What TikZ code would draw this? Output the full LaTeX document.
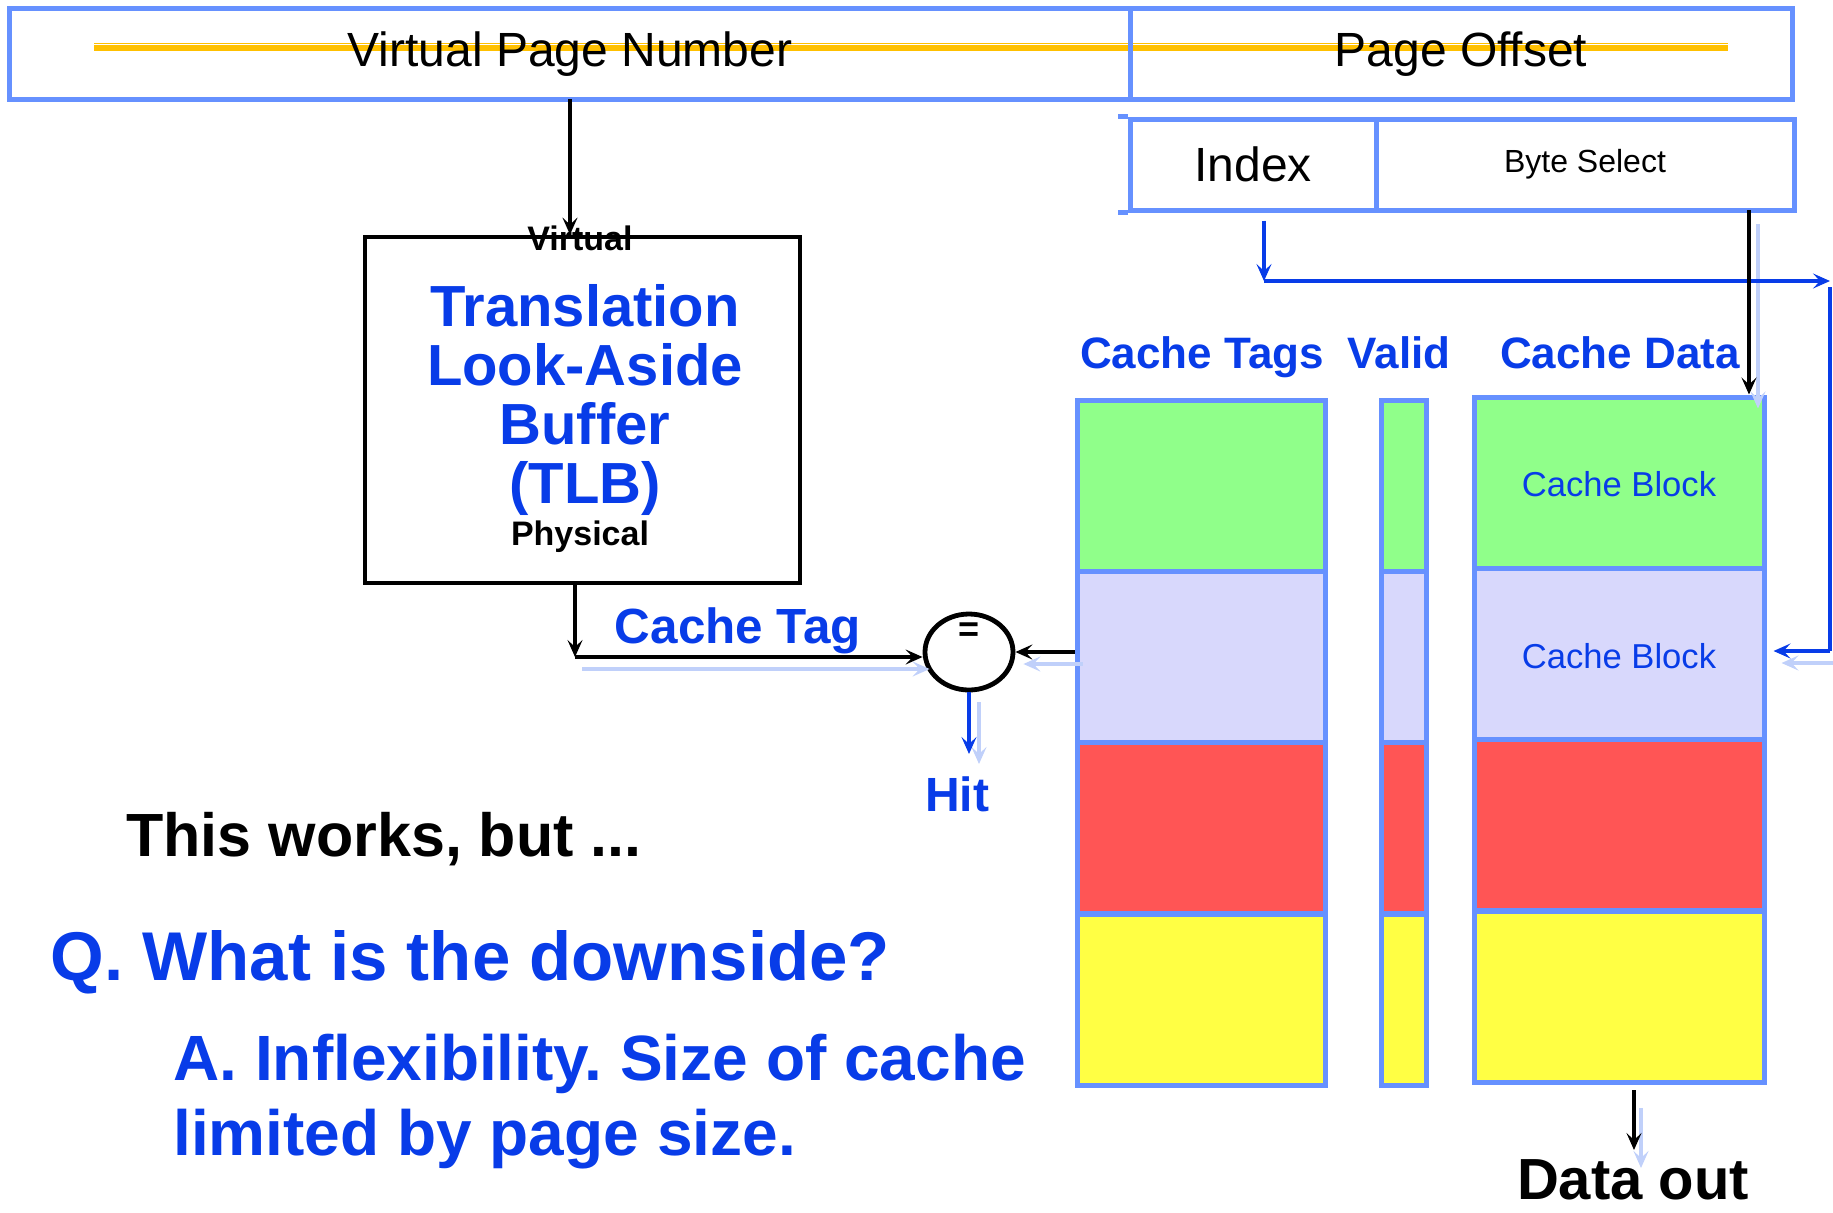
\documentclass[tikz,border=0pt]{standalone}
\usepackage{fontspec}
\setmainfont{Liberation Sans}
\usetikzlibrary{arrows.meta,shapes.geometric}
\definecolor{tblue}{RGB}{8,60,232}
\definecolor{bord}{RGB}{102,145,255}
\definecolor{shad}{RGB}{192,208,250}
\definecolor{orng}{RGB}{255,192,0}
\definecolor{cgreen}{RGB}{144,255,138}
\definecolor{clav}{RGB}{216,216,252}
\definecolor{cred}{RGB}{255,85,85}
\definecolor{cyel}{RGB}{255,255,68}
\tikzset{
  fld/.style={draw=bord, line width=2.5pt, inner sep=0pt, rectangle, minimum height=45.5pt},
  cell/.style={draw=bord, line width=2.5pt, inner sep=0pt, rectangle, minimum height=85.5pt},
  tagcell/.style={cell, minimum width=124pt},
  valcell/.style={cell, minimum width=22.5pt},
  datcell/.style={cell, minimum width=145pt},
  tip/.style={-{Stealth[length=8.5pt,width=7.5pt,inset=3.5pt]}},
  blk/.style={tip, draw=black, line width=2.3pt},
  blu/.style={tip, draw=tblue, fill=tblue, line width=2.3pt},
  bluline/.style={draw=tblue, line width=2.3pt},
  shd/.style={tip, draw=shad, line width=2.3pt},
  lbl/.style={inner sep=0pt},
  bbl/.style={lbl, text=tblue, font=\bfseries\fontsize{22}{26}\selectfont},
}
\frenchspacing
\begin{document}
\begin{tikzpicture}[x=0.5pt, y=-0.5pt]
\useasboundingbox (0,0) rectangle (1833,1212);
% orange band behind the address fields
\draw[orng, line width=3.8pt] (94,47) -- (1728,47);
\draw[white, line width=0.5pt] (94,44.5) -- (1728,44.5);
% address fields
\node[fld, minimum width=560.5pt] (vpn) at (569.5,53.5) {};
\node[fld, minimum width=331pt] (po) at (1461,53.5) {};
\node[lbl, font=\fontsize{24}{28}\selectfont] (vpnt) at (570,54) {Virtual Page Number};
\node[lbl, font=\fontsize{24}{28}\selectfont] (pot) at (1461,54) {Page Offset};
\node[fld, minimum width=123pt, font=\fontsize{24}{28}\selectfont] (idx) at (1253,164.5) {Index};
\node[fld, minimum width=209pt, font=\fontsize{16}{19}\selectfont] (bs) at (1585,164.5) {Byte Select};
\draw[bord, line width=2.5pt] (idx.north west) -- ++(-10,0);
\draw[bord, line width=2.5pt] (idx.south west) -- ++(-10,0);
% TLB
\node[draw, line width=2.4pt, minimum width=217.5pt, minimum height=173pt, inner sep=0pt] (tlb) at (582.5,410) {};
\node[lbl, text=tblue, align=center, font=\bfseries\fontsize{29}{29.5}\selectfont] (tlbt) at (585,400) {Translation\\Look-Aside\\Buffer\\(TLB)};
\node[lbl, font=\bfseries\fontsize{17}{20}\selectfont] (virt) at (580,238) {Virtual};
\node[lbl, font=\bfseries\fontsize{17}{20}\selectfont] (phys) at (580,537) {Physical};
% comparator
\node[ellipse, draw, line width=2.4pt, minimum width=44pt, minimum height=38pt, inner sep=0pt] (cmp) at (969,652) {};
\node[lbl, font=\bfseries\fontsize{18}{20}\selectfont] (eq) at (969,632) {=};
% cache arrays
\foreach \r/\c/\y in {1/cgreen/485.5, 2/clav/657, 3/cred/828, 4/cyel/999.5}{
  \node[tagcell, fill=\c] (t\r) at (1201,\y) {};
  \node[valcell, fill=\c] (v\r) at (1403.5,\y) {};
}
\foreach \r/\c/\y in {1/cgreen/482.5, 2/clav/654, 3/cred/825, 4/cyel/996.5}{
  \node[datcell, fill=\c] (d\r) at (1619,\y) {};
}
\node[lbl, text=tblue, font=\fontsize{17.3}{20}\selectfont] (cb1) at ([yshift=-1pt]d1) {Cache Block};
\node[lbl, text=tblue, font=\fontsize{17.3}{20}\selectfont] (cb2) at ([yshift=-1pt]d2) {Cache Block};
\node[bbl] (htags) at (1202,357) {Cache Tags};
\node[bbl] (hvalid) at (1399,353) {Valid};
\node[bbl] (hdata) at (1620,353) {Cache Data};
% labels
\node[lbl, text=tblue, font=\bfseries\fontsize{24.7}{28}\selectfont] (ctag) at (738,631) {Cache Tag};
\node[lbl, text=tblue, font=\bfseries\fontsize{24}{28}\selectfont] (hit) at (957,794) {Hit};
\node[lbl, font=\bfseries\fontsize{29}{32}\selectfont] (dout) at (1633,1180) {Data out};
\node[lbl, anchor=west, font=\bfseries\fontsize{30.5}{34}\selectfont] (works) at (126,839) {This works, but ...};
\node[lbl, anchor=west, text=tblue, font=\bfseries\fontsize{34.5}{38}\selectfont] (q) at (50,962) {Q. What is the downside?};
\node[lbl, anchor=west, text=tblue, align=left, font=\bfseries\fontsize{32}{37.5}\selectfont] (a) at (173,1102) {A. Inflexibility. Size of cache\\limited by page size.};
% coordinates for connector corners
\coordinate (va) at (570,99);
\coordinate (tc) at (575,657);
\coordinate (hc) at (969,754);
\coordinate (ic) at (1264,281);
\coordinate (ir) at (1830,281);
\coordinate (ie) at (1830,651);
\coordinate (bsc) at (1749,210);
\coordinate (do1) at (1634,1090);
\coordinate (do2) at (1634,1150);
% shadows
\draw[shd, transform canvas={shift={(7,12)}}] (tc) -- (tc -| cmp.west);
\draw[shd, transform canvas={shift={(8,12)}}] (t2.west |- cmp.east) -- (cmp.east);
\draw[shd, transform canvas={shift={(10,10)}}] (cmp.south) -- (hc);
\draw[shd, transform canvas={shift={(8,12)}}, shorten >=3.5pt] (ie) -- (ie -| d2.east);
\draw[shd, transform canvas={shift={(9,14)}}] (bsc) -- (bsc |- d1.north);
\draw[shd, transform canvas={shift={(7,18)}}] (do1) -- (do2);
% connectors
\draw[blk] (va) -- (va |- tlb.north);
\draw[blk] (tlb.south -| tc) -- (tc);
\draw[blk] (tc) -- (tc -| cmp.west);
\draw[blk] (t2.west |- cmp.east) -- (cmp.east);
\draw[blu] (cmp.south) -- (hc);
\draw[blu, shorten <=4pt] (idx.south -| ic) -- (ic);
\draw[blu] (ic) -- (ir);
\draw[bluline] ([yshift=-3pt]ir) -- (ie);
\draw[blu, shorten >=3.5pt] (ie) -- (ie -| d2.east);
\draw[blk] (bsc) -- (bsc |- d1.north);
\draw[blk] (do1) -- (do2);
\end{tikzpicture}
\end{document}
